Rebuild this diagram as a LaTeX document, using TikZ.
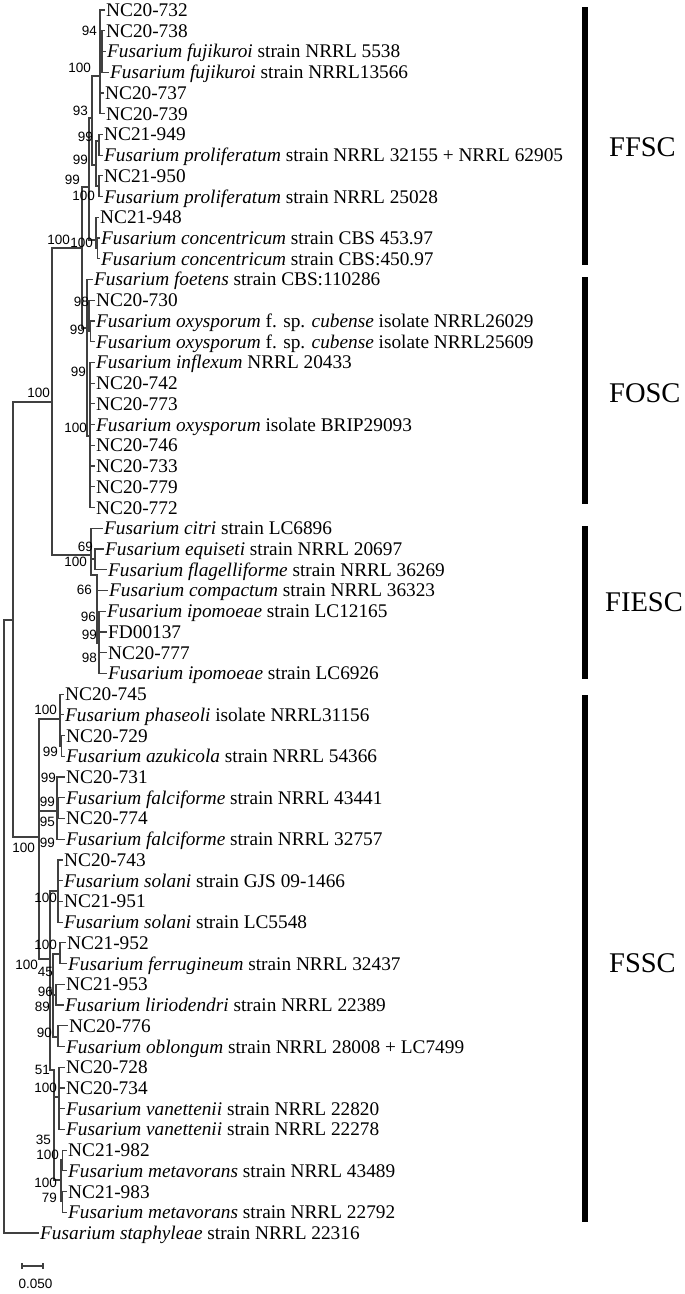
\documentclass[tikz,border=0pt]{standalone}
\usepackage{fontspec}
\setmainfont{Liberation Serif}
\newfontfamily\lblfont{Liberation Sans}
\begin{document}
\begin{tikzpicture}[x=1pt,y=-1pt,
  br/.style={draw=black!75, line width=1.2pt, line cap=rect},
  leaf/.style={anchor=west, inner sep=0pt, text height=13pt, text depth=0pt, font=\fontsize{19.3}{19.3}\selectfont},
  bs/.style={anchor=east, inner sep=0pt, font=\lblfont\fontsize{13.5}{13.5}\selectfont},
  cladebar/.style={fill=black, draw=none},
  cladelbl/.style={anchor=west, inner sep=0pt, font=\fontsize{28.5}{28.5}\selectfont}]
\fill[white] (0,0) rectangle (685,1294);
\useasboundingbox (0,0) rectangle (685,1294);

% leaves
\foreach \i/\x/\lname in {
1/106/NC20-732,
2/106/NC20-738,
3/107/{\textit{Fusarium fujikuroi} strain NRRL 5538},
4/110/{\textit{Fusarium fujikuroi} strain NRRL13566},
5/105/NC20-737,
6/106/NC20-739,
7/104/NC21-949,
8/104/{\textit{Fusarium proliferatum} strain NRRL 32155 + NRRL 62905},
9/104/NC21-950,
10/104/{\textit{Fusarium proliferatum} strain NRRL 25028},
11/100/NC21-948,
12/101/{\textit{Fusarium concentricum} strain CBS 453.97},
13/101/{\textit{Fusarium concentricum} strain CBS:450.97},
14/94/{\textit{Fusarium foetens} strain CBS:110286},
15/96/NC20-730,
16/96/{\textit{Fusarium oxysporum} f. sp. \textit{cubense} isolate NRRL26029},
17/96/{\textit{Fusarium oxysporum} f. sp. \textit{cubense} isolate NRRL25609},
18/96/{\textit{Fusarium inflexum} NRRL 20433},
19/96/NC20-742,
20/96/NC20-773,
21/96/{\textit{Fusarium oxysporum} isolate BRIP29093},
22/96/NC20-746,
23/96/NC20-733,
24/96/NC20-779,
25/96/NC20-772,
26/104/{\textit{Fusarium citri} strain LC6896},
27/105/{\textit{Fusarium equiseti} strain NRRL 20697},
28/108/{\textit{Fusarium flagelliforme} strain NRRL 36269},
29/109/{\textit{Fusarium compactum} strain NRRL 36323},
30/107/{\textit{Fusarium ipomoeae} strain LC12165},
31/108/FD00137,
32/108/NC20-777,
33/108/{\textit{Fusarium ipomoeae} strain LC6926},
34/65/NC20-745,
35/65/{\textit{Fusarium phaseoli} isolate NRRL31156},
36/66/NC20-729,
37/66/{\textit{Fusarium azukicola} strain NRRL 54366},
38/66/NC20-731,
39/66/{\textit{Fusarium falciforme} strain NRRL 43441},
40/66/NC20-774,
41/66/{\textit{Fusarium falciforme} strain NRRL 32757},
42/64/NC20-743,
43/64/{\textit{Fusarium solani} strain GJS 09-1466},
44/64/NC21-951,
45/64/{\textit{Fusarium solani} strain LC5548},
46/67/NC21-952,
47/68/{\textit{Fusarium ferrugineum} strain NRRL 32437},
48/66/NC21-953,
49/65/{\textit{Fusarium liriodendri} strain NRRL 22389},
50/69/NC20-776,
51/66/{\textit{Fusarium oblongum} strain NRRL 28008 + LC7499},
52/66/NC20-728,
53/66/NC20-734,
54/66/{\textit{Fusarium vanettenii} strain NRRL 22820},
55/66/{\textit{Fusarium vanettenii} strain NRRL 22278},
56/68/NC21-982,
57/68/{\textit{Fusarium metavorans} strain NRRL 43489},
58/68/NC21-983,
59/68/{\textit{Fusarium metavorans} strain NRRL 22792},
60/40/{\textit{Fusarium staphyleae} strain NRRL 22316}}
{\node[leaf] (t\i) at (\x,{10+(\i-1)*20.73}) {\lname};}

% internal nodes
\coordinate (nR) at (4,620);
\coordinate (nI) at (13,620);
\coordinate (nJ) at (52,402);
\coordinate (nS) at (39,837);
\coordinate (nK) at (82,248);
\coordinate (nQ) at (91,555);
\coordinate (nL) at (89,187);
\coordinate (nO) at (87,328);
\coordinate (nM) at (92,118);
\coordinate (nN) at (96,240);
\coordinate (nN2) at (97.5,248);
\coordinate (nF1) at (100,76);
\coordinate (nF2) at (102,52);
\coordinate (nP) at (96,165);
\coordinate (nP1) at (99,141);
\coordinate (nP2) at (99,186);
\coordinate (nO1) at (89,320);
\coordinate (nO1a) at (90.5,331);
\coordinate (nO3) at (90,436);
\coordinate (nQ1) at (95,559);
\coordinate (nQ2) at (97,575);
\coordinate (nQ3) at (99,643);
\coordinate (nB) at (60,719);
\coordinate (nB1) at (61.5,746);
\coordinate (nFal) at (57,811);
\coordinate (nFal1) at (58.5,808);
\coordinate (nC) at (50,959);
\coordinate (nC1) at (58,891);
\coordinate (nD) at (53,990);
\coordinate (nD1) at (60,954);
\coordinate (nD2) at (56,995);
\coordinate (nD3) at (58,1037);
\coordinate (nE) at (54,1070);
\coordinate (nE1) at (59,1097);
\coordinate (nE2) at (61,1180);
\coordinate (nE2a) at (62.5,1160);
\coordinate (nE2b) at (62.5,1201);

% internal branches
\foreach \p/\c in {nR/nI, nI/nJ, nI/nS, nJ/nK, nJ/nQ, nK/nL, nK/nO, nL/nM, nL/nN,
  nN/nN2, nM/nF1, nM/nP, nF1/nF2, nP/nP1, nP/nP2, nO/nO1, nO1/nO1a, nO/nO3,
  nQ/nQ1, nQ/nQ2, nQ2/nQ3, nS/nB, nB/nB1, nS/nFal, nFal/nFal1, nS/nC, nC/nC1, nC/nD, nC/nE,
  nD/nD1, nD/nD2, nD/nD3, nE/nE1, nE/nE2, nE2/nE2a, nE2/nE2b}
  {\draw[br] (\p) |- (\c);}

% terminal branches
\foreach \p/\c in {nF1/1, nF2/2, nF2/3, nF2/4, nF1/5, nF1/6, nP1/7, nP1/8, nP2/9, nP2/10,
  nN/11, nN2/12, nN2/13, nO/14, nO1/15, nO1a/16, nO1a/17,
  nO3/18, nO3/19, nO3/20, nO3/21, nO3/22, nO3/23, nO3/24, nO3/25,
  nQ/26, nQ1/27, nQ1/28, nQ2/29, nQ3/30, nQ3/31, nQ3/32, nQ3/33,
  nB/34, nB/35, nB1/36, nB1/37, nFal/38, nFal1/39, nFal1/40, nFal/41,
  nC1/42, nC1/43, nC1/44, nC1/45, nD1/46, nD1/47, nD2/48, nD2/49, nD3/50, nD3/51,
  nE1/52, nE1/53, nE1/54, nE1/55, nE2a/56, nE2a/57, nE2b/58, nE2b/59, nR/60}
  {\draw[br] (\p) |- ([xshift=-2pt]t\c.west);}

% bootstrap values
\foreach \v/\x/\y in {94/97/31, 100/91/68, 93/88/111, 99/93/137, 99/88/160, 99/80/180,
  100/95/196, 100/70/240, 100/93/243, 98/89/302, 99/85/330, 99/86/372, 100/50/393,
  100/87/428, 69/93/547, 100/87/562, 66/92/590, 96/96/617, 99/97/635, 98/97/658,
  100/57/710, 99/58/752, 99/56/778, 99/55/802, 95/55/822, 99/55/843, 100/35/848,
  100/57/898, 100/57/945, 100/38/965, 45/53/972, 96/53/992, 89/50/1007, 90/52/1033,
  51/50/1070, 100/57/1088, 35/51/1140, 100/59/1155, 100/57/1183, 79/57/1198}
  {\node[bs] at (\x,\y) {\v};}

% clade bars and labels
\fill[cladebar] (582,7) rectangle (588,265);
\fill[cladebar] (582,277) rectangle (588,504);
\fill[cladebar] (582,526) rectangle (588,679);
\fill[cladebar] (582,695) rectangle (588,1222);
\node[cladelbl] (cFFSC) at (609,147) {FFSC};
\node[cladelbl] (cFOSC) at (609,393) {FOSC};
\node[cladelbl] (cFIESC) at (605,602) {FIESC};
\node[cladelbl] (cFSSC) at (609,963) {FSSC};

% scale bar
\coordinate (sb1) at (22,1266);
\coordinate (sb2) at (43,1266);
\draw[br, line cap=butt] (sb1) -- (sb2);
\draw[br, line cap=butt] ([yshift=3pt]sb1) -- ([yshift=-3pt]sb1);
\draw[br, line cap=butt] ([yshift=3pt]sb2) -- ([yshift=-3pt]sb2);
\node[bs, anchor=center] (sbl) at (35.5,1284) {0.050};
\end{tikzpicture}
\end{document}
